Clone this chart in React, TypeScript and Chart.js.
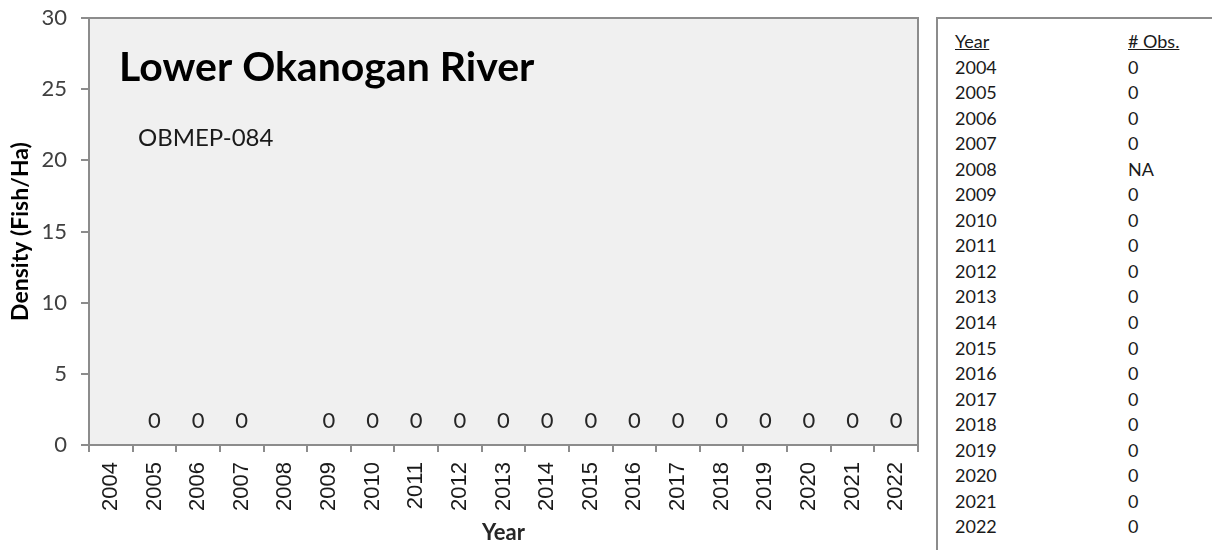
import React, { useEffect, useRef } from "react";
import { Chart, registerables } from "chart.js";

Chart.register(...registerables);

const years = ["2004","2005","2006","2007","2008","2009","2010","2011","2012","2013","2014","2015","2016","2017","2018","2019","2020","2021","2022"];
const densityValues: (number | null)[] = [null, 0, 0, 0, null, 0, 0, 0, 0, 0, 0, 0, 0, 0, 0, 0, 0, 0, 0];
const observations = ["0","0","0","0","NA","0","0","0","0","0","0","0","0","0","0","0","0","0","0"];
const yTicks = [0, 5, 10, 15, 20, 25, 30];
const chartTitle = "Lower Okanogan River";
const siteLabel = "OBMEP-084";
const yAxisTitle = "Density (Fish/Ha)";
const xAxisTitle = "Year";

const LATO = 'Lato, "Open Sans", sans-serif';
const ARIAL = '"Liberation Sans", Arial, sans-serif';
const BORDER = "#8c8c8c";

export default function App() {
  const canvasRef = useRef<HTMLCanvasElement | null>(null);

  useEffect(() => {
    document.body.style.margin = "0";
    const canvas = canvasRef.current;
    if (!canvas) return;

    const panelPlugin = {
      id: "panelPlugin",
      beforeDraw(chart: any) {
        const { ctx, chartArea } = chart;
        ctx.save();
        ctx.fillStyle = "#f0f0f0";
        ctx.fillRect(chartArea.left, chartArea.top, chartArea.right - chartArea.left, chartArea.bottom - chartArea.top);
        ctx.restore();
      },
      afterDraw(chart: any) {
        const { ctx, chartArea } = chart;
        ctx.save();
        ctx.strokeStyle = BORDER;
        ctx.lineWidth = 2;
        ctx.strokeRect(chartArea.left, chartArea.top, chartArea.right - chartArea.left, chartArea.bottom - chartArea.top);
        // titles inside plot
        ctx.fillStyle = "#000";
        ctx.textBaseline = "alphabetic";
        ctx.textAlign = "left";
        ctx.font = `bold 41px ${LATO}`;
        ctx.fillText(chartTitle, chartArea.left + 30, chartArea.top + 63);
        ctx.fillStyle = "#1a1a1a";
        ctx.font = `24px ${LATO}`;
        ctx.fillText(siteLabel, chartArea.left + 49, chartArea.top + 128);
        // data labels
        const meta = chart.getDatasetMeta(0);
        ctx.font = `22px ${LATO}`;
        ctx.fillStyle = "#262626";
        ctx.textAlign = "center";
        ctx.textBaseline = "middle";
        meta.data.forEach((el: any, i: number) => {
          const v = densityValues[i];
          if (v === null || v === undefined) return;
          ctx.fillText(String(v), el.x, el.y - 24);
        });
        ctx.restore();
      },
    };

    const chart = new Chart(canvas, {
      type: "bar",
      data: {
        labels: years,
        datasets: [
          {
            label: "Density",
            data: densityValues as any,
            backgroundColor: "#4f81bd",
          },
        ],
      },
      options: {
        responsive: false,
        animation: false,
        layout: { padding: { top: 18, right: 12, left: 0, bottom: 0 } },
        plugins: {
          legend: { display: false },
          tooltip: { enabled: false },
        },
        scales: {
          x: {
            offset: true,
            grid: {
              display: true,
              offset: true,
              drawOnChartArea: false,
              drawTicks: true,
              tickLength: 7,
              color: BORDER,
              lineWidth: 2,
            },
            border: { display: true, color: BORDER, width: 2 },
            ticks: {
              minRotation: 90,
              maxRotation: 90,
              padding: 10,
              color: "#1a1a1a",
              font: { family: ARIAL, size: 22 },
            },
            title: {
              display: true,
              text: xAxisTitle,
              color: "#262626",
              font: { family: LATO, size: 22, weight: "bold" },
              padding: { top: 0, bottom: 4 },
            },
            afterFit(scale: any) {
              scale.height = 105;
              scale.paddingLeft = 0;
              scale.paddingRight = 0;
            },
          },
          y: {
            min: 0,
            max: 30,
            afterBuildTicks(scale: any) {
              scale.ticks = yTicks.map((v) => ({ value: v }));
            },
            grid: {
              display: true,
              drawOnChartArea: false,
              drawTicks: true,
              tickLength: 8,
              color: BORDER,
              lineWidth: 2,
            },
            border: { display: true, color: BORDER, width: 2 },
            ticks: {
              padding: 14,
              color: "#404040",
              font: { family: LATO, size: 22 },
            },
            title: {
              display: true,
              text: yAxisTitle,
              color: "#000",
              font: { family: LATO, size: 23, weight: "bold" },
              padding: { top: 7, bottom: 0 },
            },
            afterFit(scale: any) {
              scale.width = 89;
              scale.paddingTop = 0;
              scale.paddingBottom = 0;
            },
          },
        },
      },
      plugins: [panelPlugin],
    });

    return () => {
      chart.destroy();
    };
  }, []);

  const rowH = 25.55;
  return (
    <div style={{ position: "relative", width: 1212, height: 550, overflow: "hidden", background: "#fff" }}>
      <canvas ref={canvasRef} width={930} height={550} style={{ position: "absolute", left: 0, top: 0 }} />
      <div
        style={{
          position: "absolute",
          left: 936,
          top: 17,
          width: 300,
          height: 600,
          borderLeft: `2px solid ${BORDER}`,
          borderTop: `2px solid ${BORDER}`,
          boxSizing: "border-box",
          fontFamily: LATO,
          fontSize: 18,
          color: "#1a1a1a",
          paddingTop: 10,
        }}
      >
        <div style={{ position: "relative", height: rowH, lineHeight: `${rowH}px` }}>
          <span style={{ position: "absolute", left: 17, textDecoration: "underline" }}>Year</span>
          <span style={{ position: "absolute", left: 190, textDecoration: "underline" }}># Obs.</span>
        </div>
        {years.map((y, i) => (
          <div key={y} style={{ position: "relative", height: rowH, lineHeight: `${rowH}px` }}>
            <span style={{ position: "absolute", left: 17 }}>{y}</span>
            <span style={{ position: "absolute", left: 190 }}>{observations[i]}</span>
          </div>
        ))}
      </div>
    </div>
  );
}
